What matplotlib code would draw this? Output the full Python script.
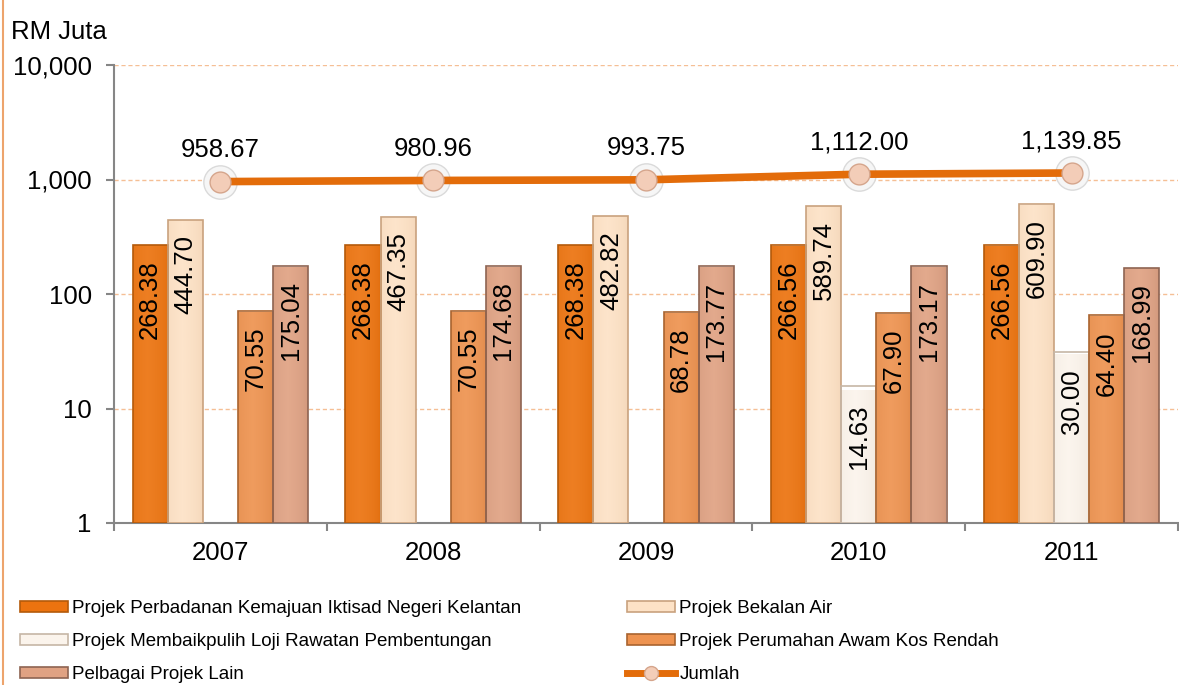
import matplotlib
matplotlib.use('Agg')
import matplotlib.pyplot as plt
import matplotlib.ticker as mticker
import matplotlib.colors as mcolors
from matplotlib.lines import Line2D
from matplotlib.patches import Patch
import numpy as np

plt.rcParams['font.family'] = ['Liberation Sans', 'DejaVu Sans']

years = ['2007', '2008', '2009', '2010', '2011']

pknk = [268.38, 268.38, 268.38, 266.56, 266.56]
bekalan_air = [444.70, 467.35, 482.82, 589.74, 609.90]
loji = [np.nan, np.nan, np.nan, 14.63, 30.00]
perumahan = [70.55, 70.55, 68.78, 67.90, 64.40]
lain = [175.04, 174.68, 173.77, 173.17, 168.99]
jumlah = [958.67, 980.96, 993.75, 1112.00, 1139.85]

series_names = ['Projek Perbadanan Kemajuan Iktisad Negeri Kelantan',
                'Projek Bekalan Air',
                'Projek Membaikpulih Loji Rawatan Pembentungan',
                'Projek Perumahan Awam Kos Rendah',
                'Pelbagai Projek Lain']
series = [pknk, bekalan_air, loji, perumahan, lain]
face = ['#EC730F', '#FDE2C6', '#FBF4EC', '#EE9350', '#E0A283']
edge = ['#B45A0A', '#C9A27E', '#C6B6A6', '#A9632F', '#8E6452']


def shade(fc, ec):
    # horizontal bevel-ish gradient across a bar
    fc = np.array(mcolors.to_rgb(fc))
    ec = np.array(mcolors.to_rgb(ec))
    light = fc + (1 - fc) * 0.08
    dark = fc * 0.8 + ec * 0.2
    u = np.linspace(0, 1, 40)
    f = np.clip(1 - np.abs(u - 0.4) / 0.6, 0, 1) ** 0.5
    return (dark[None, :] * (1 - f[:, None]) + light[None, :] * f[:, None])[None, :, :]


fig = plt.figure(figsize=(11.79, 6.85), dpi=100)
ax = fig.add_axes([114 / 1179, 1 - 523 / 685, 1064 / 1179, 458 / 685])
ax.set_yscale('log')

x = np.arange(len(years))
w = 0.165
proxies = []
for i, (vals, name) in enumerate(zip(series, series_names)):
    bars = ax.bar(x + (i - 2) * w, vals, w, bottom=1, facecolor='none',
                  edgecolor=edge[i], linewidth=1.2, zorder=3.5)
    grad = shade(face[i], edge[i])
    for b, v in zip(bars, vals):
        if np.isnan(v):
            continue
        im = ax.imshow(grad, extent=[b.get_x(), b.get_x() + b.get_width(), 1, v],
                       aspect='auto', interpolation='bilinear', zorder=3)
        im.set_clip_path(b)
    proxies.append(Patch(facecolor=face[i], edgecolor=edge[i], linewidth=1.2, label=name))
    for xi, v in zip(x, vals):
        if np.isnan(v):
            continue
        ax.annotate('%.2f' % v, (xi + (i - 2) * w, v), xytext=(0, -11),
                    textcoords='offset points', rotation=90, ha='center',
                    va='top', fontsize=18.5, zorder=5)

# jumlah line
ax.scatter(x, jumlah, s=24 ** 2, facecolor='#F6F6F6', edgecolor='#DADADA',
           linewidth=1, zorder=4)
ax.plot(x, jumlah, color='#E36C0A', lw=5.5, marker='o', markersize=15,
        markerfacecolor='#F3CDB8', markeredgecolor='#D5A58C',
        markeredgewidth=1, zorder=6)
for xi, v in zip(x, jumlah):
    ax.annotate(format(v, ',.2f'), (xi, v), xytext=(0, 14),
                textcoords='offset points', ha='center', va='bottom',
                fontsize=18.5, zorder=7)

ax.set_ylim(1, 10000)
ax.set_xlim(-0.5, 4.5)
ax.yaxis.set_major_locator(mticker.LogLocator(base=10, numticks=10))
ax.yaxis.set_minor_locator(mticker.NullLocator())
ax.yaxis.set_major_formatter(mticker.FuncFormatter(lambda v, p: format(int(round(v)), ',')))
ax.grid(axis='y', color='#F5BF95', linestyle=(0, (3, 2)), linewidth=1, zorder=0)

ax.set_xticks(x)
ax.set_xticklabels(years)
ax.set_xticks(np.arange(-0.5, 5, 1), minor=True)
ax.tick_params(axis='x', which='major', length=0, pad=13, labelsize=18.5)
ax.tick_params(axis='x', which='minor', length=6, color='#868686', width=1.5)
ax.tick_params(axis='y', length=6, color='#868686', width=1.5, pad=10, labelsize=18.5)

ax.spines['right'].set_visible(False)
ax.spines['top'].set_visible(False)
ax.spines['left'].set_color('#868686')
ax.spines['bottom'].set_color('#868686')
ax.spines['left'].set_linewidth(1.5)
ax.spines['bottom'].set_linewidth(1.5)

fig.text(11 / 1179, 1 - 32 / 685, 'RM Juta', fontsize=18.5, va='center', ha='left')

jumlah_proxy = Line2D([], [], color='#E36C0A', lw=5, marker='o', markersize=10,
                      markerfacecolor='#F3CDB8', markeredgecolor='#D5A58C',
                      label='Jumlah')

# legend: excel fills row by row, matplotlib column by column
leg_handles = [proxies[0], proxies[2], proxies[4], proxies[1], proxies[3], jumlah_proxy]
leg_labels = [h.get_label() for h in leg_handles]
fig.legend(leg_handles, leg_labels, loc='upper left', ncol=2,
           bbox_to_anchor=(20 / 1179, 1 - 600 / 685), frameon=False,
           fontsize=13.5, handlelength=2.55, handleheight=0.5,
           handletextpad=0.25, columnspacing=5.6, labelspacing=0.85,
           borderpad=0, borderaxespad=0)

fig.add_artist(Line2D([3 / 1179, 3 / 1179], [0, 1], color='#EDA46C', lw=1.5))

fig.savefig('out.png', dpi=100)
